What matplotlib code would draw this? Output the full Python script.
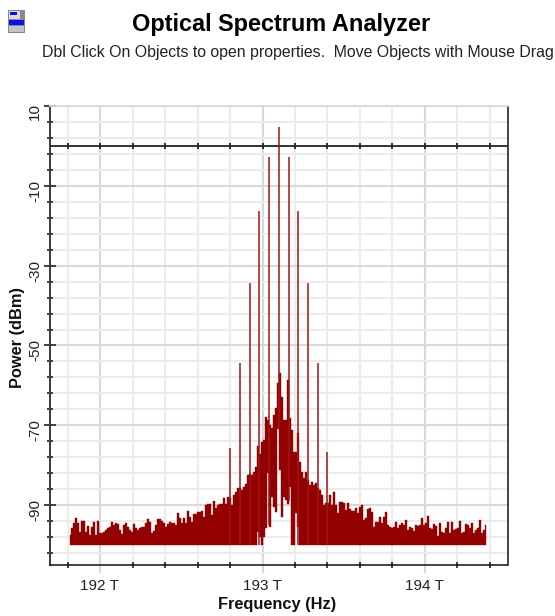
import numpy as np
import matplotlib
matplotlib.use("Agg")
import matplotlib.pyplot as plt
from matplotlib.patches import Rectangle
from matplotlib.transforms import ScaledTranslation

plt.rcParams['font.family'] = ['Liberation Sans', 'DejaVu Sans']

# Signal tones
tone_freq_T = [192.8, 192.86, 192.92, 192.98, 193.04, 193.1, 193.16, 193.22, 193.28, 193.34, 193.4]
tone_dbm = [-75.7, -54.3, -34.4, -16.4, -2.8, 4.75, -2.8, -16.4, -34.4, -54.3, -76.7]
tone_base_dbm = [-100, -100, -100, -100, -95, -71, -89, -100, -100, -100, -100]

# Noise upper envelope (dBm), read across the band
noise_start_T = 191.815
noise_stop_T = 194.375
noise_upper = [
    -97.5, -95.8, -94.6, -93.3, -94.6, -96.8, -93.9, -93.9, -96.8, -95.3, -97.5, -95.4,
    -94.2, -97.5, -93.9, -97.1, -97.0, -96.7, -96.2, -95.8, -95.4, -94.2, -95.0, -94.6,
    -94.8, -96.2, -97.3, -95.0, -94.6, -95.4, -96.2, -96.7, -94.8, -95.8, -96.2, -95.8,
    -95.4, -95.6, -94.6, -93.6, -94.2, -96.9, -96.4, -95.0, -93.6, -93.6, -93.9, -94.6,
    -95.4, -94.8, -94.2, -94.4, -94.6, -95.0, -92.0, -93.3, -94.6, -93.1, -94.6, -91.4,
    -92.9, -94.2, -92.1, -92.1, -91.8, -91.7, -91.4, -92.9, -90.0, -89.8, -89.8, -92.5,
    -88.9, -90.8, -90.0, -89.6,
    -89.6, -88.3, -89.6, -87.9, -88.3, -90.0, -87.5, -86.7, -85.8, -85.8, -86.2, -85.4,
    -84.6, -82.5, -82.1, -82.5, -81.7, -80.4, -75.2, -77.2, -74.2, -73.7, -67.9, -68.7,
    -70.0, -70.7, -67.5, -65.7, -59.5, -57.0, -63.0, -68.7, -68.7, -58.7, -68.2, -71.2,
    -76.7, -76.7, -72.0, -79.2,
    -81.7, -83.2, -81.7, -83.7, -85.0, -84.2, -85.0, -84.5, -85.7, -86.2, -87.5, -90.0,
    -89.5, -89.5, -87.5, -90.0, -86.7,
    -90.0, -92.0, -89.2, -89.2, -89.5, -91.2, -89.5, -91.0, -91.5, -91.5, -90.7, -92.0,
    -90.5, -90.0, -93.7, -93.2, -91.0, -90.7, -91.7, -95.5, -94.2, -94.2, -93.0, -94.5,
    -93.0, -91.7, -95.0, -95.5, -95.7, -95.5, -94.2, -95.7, -95.0, -94.5, -95.0, -93.7,
    -96.2, -95.5,
    -95.8, -96.4, -95.0, -95.2, -95.0, -93.2, -95.0, -94.5, -92.7, -95.7, -96.0, -94.7,
    -95.2, -97.7, -94.5, -96.7, -97.0, -95.7, -94.2, -97.0, -94.2, -96.2, -96.0, -95.7,
    -94.0, -97.0, -96.7, -94.7, -95.0, -95.7, -94.5, -97.0, -96.2, -95.7, -93.7, -97.0,
    -96.2, -95.0,
]
noise_floor_dbm = -100.0

# Lower edge of the noise around the carrier (the hollow central notch)
notch_index_start = 94
notch_lower = [
    -96.7, -97.9, -100.0, -97.9, -95.8, -82.0, -95.4, -87.9, -90.4, -91.7, -71.0, -81.2,
    -92.9, -87.9, -88.7, -89.6, -85.4, -100.0, -100.0, -92.0, -95.4,
]

x_major = [192, 193, 194]
x_minor = [191.8, 192.2, 192.4, 192.6, 192.8, 193.2, 193.4, 193.6, 193.8, 194.2, 194.4]
x_labels = ["192 T", "193 T", "194 T"]
y_major = [-90, -70, -50, -30, -10, 10]
y_minor = [-102, -98, -94, -86, -82, -78, -74, -66, -62, -58, -54, -46, -42, -38, -34,
           -26, -22, -18, -14, -6, -2, 2, 6]

W, H = 555, 616
fig = plt.figure(figsize=(W / 100, H / 100), dpi=100, facecolor='white')
L, R, T, B = 50, 508, 106, 565
ax = fig.add_axes([L / W, 1 - B / H, (R - L) / W, (B - T) / H])
ax.set_xlim(191.692, 194.511)
ax.set_ylim(-105, 10)
ax.set_axisbelow(True)

ax.set_xticks(x_major)
ax.set_xticks(x_minor, minor=True)
ax.set_xticklabels(x_labels, fontsize=11, color='#222222')
ax.set_yticks(y_major)
ax.set_yticks(y_minor, minor=True)
ax.set_yticklabels([str(v) for v in y_major], fontsize=11, rotation=90, va='center', color='#222222')

ax.grid(which='major', color='#d9d9d9', lw=1.5)
ax.grid(which='minor', color='#ececec', lw=1.5)

# noise
n_pts = len(noise_upper)
freq = np.linspace(noise_start_T, noise_stop_T, n_pts)
upper = np.array(noise_upper)
lower = np.full(n_pts, noise_floor_dbm)
lower[notch_index_start:notch_index_start + len(notch_lower)] = notch_lower
red = '#930000'
ax.fill_between(freq, lower, upper, step='mid', color=red, lw=0.3, zorder=3)
ax.vlines(tone_freq_T, tone_base_dbm, tone_dbm, color='#a01515', lw=1.1, zorder=3.2)

# axes lines
ax.spines['top'].set_color('#d9d9d9')
ax.spines['top'].set_linewidth(1.3)
ax.spines['left'].set_color('#3c3c3c')
ax.spines['left'].set_linewidth(1.4)
for s in ['bottom', 'right']:
    ax.spines[s].set_color('#111111')
    ax.spines[s].set_linewidth(1.1)
    ax.spines[s].set_linestyle((0, (0.9, 1.0)))

ax.axhline(0, color='#333333', lw=1.4, zorder=4)
ax.plot(x_major + x_minor, [0] * len(x_major + x_minor), ls='none', marker='|', ms=5, mew=1.3,
        color='#222222', zorder=4.5, clip_on=False)

ax.tick_params(axis='y', which='major', direction='inout', length=9, width=1.3, color='#333333', pad=1)
ax.tick_params(axis='y', which='minor', direction='inout', length=5, width=1.3, color='#333333')
ax.tick_params(axis='x', which='major', direction='out', length=6, width=1.5, color='#d9d9d9', pad=4)
ax.tick_params(axis='x', which='minor', direction='inout', length=5, width=1.2, color='#222222')

offset = ScaledTranslation(0, -5 / 100, fig.dpi_scale_trans)
for lab in ax.get_yticklabels():
    lab.set_transform(lab.get_transform() + offset)
xoffset = ScaledTranslation(-0.5 / 100, 0, fig.dpi_scale_trans)
for lab in ax.get_xticklabels():
    lab.set_transform(lab.get_transform() + xoffset)

ax.set_xlabel("Frequency (Hz)", fontsize=11.8, fontweight='bold', color='#111111')
ax.xaxis.set_label_coords(277 / W, 1 - 604 / H, transform=fig.transFigure)
ax.xaxis.label.set_va('center')
ax.set_ylabel("Power (dBm)", fontsize=11.8, fontweight='bold', color='#111111')
ax.yaxis.set_label_coords(18 / W, 1 - 337 / H, transform=fig.transFigure)
ax.yaxis.label.set_va('center')

fig.text(281.5 / W, 1 - 25 / H, "Optical Spectrum Analyzer", fontsize=16.9, fontweight='bold',
         ha='center', va='center', color='black')
fig.text(42 / W, 1 - 53 / H, "Dbl Click On Objects to open properties.  Move Objects with Mouse Drag",
         fontsize=11.43, ha='left', va='center', color='#222222')

# window icon
def px_rect(x, y, w, h, c):
    fig.add_artist(Rectangle((x / W, 1 - (y + h) / H), w / W, h / H, transform=fig.transFigure,
                             facecolor=c, edgecolor='none'))
px_rect(8, 10, 17, 23, '#8a8a8a')
px_rect(9, 11, 11, 8, '#d8d8e8')
px_rect(10, 12, 7, 3, '#1010e0')
px_rect(9, 20, 15, 5, '#1010e0')
px_rect(9, 26, 15, 6, '#c4c4c4')

fig.savefig('out.png', dpi=100, facecolor='white')
